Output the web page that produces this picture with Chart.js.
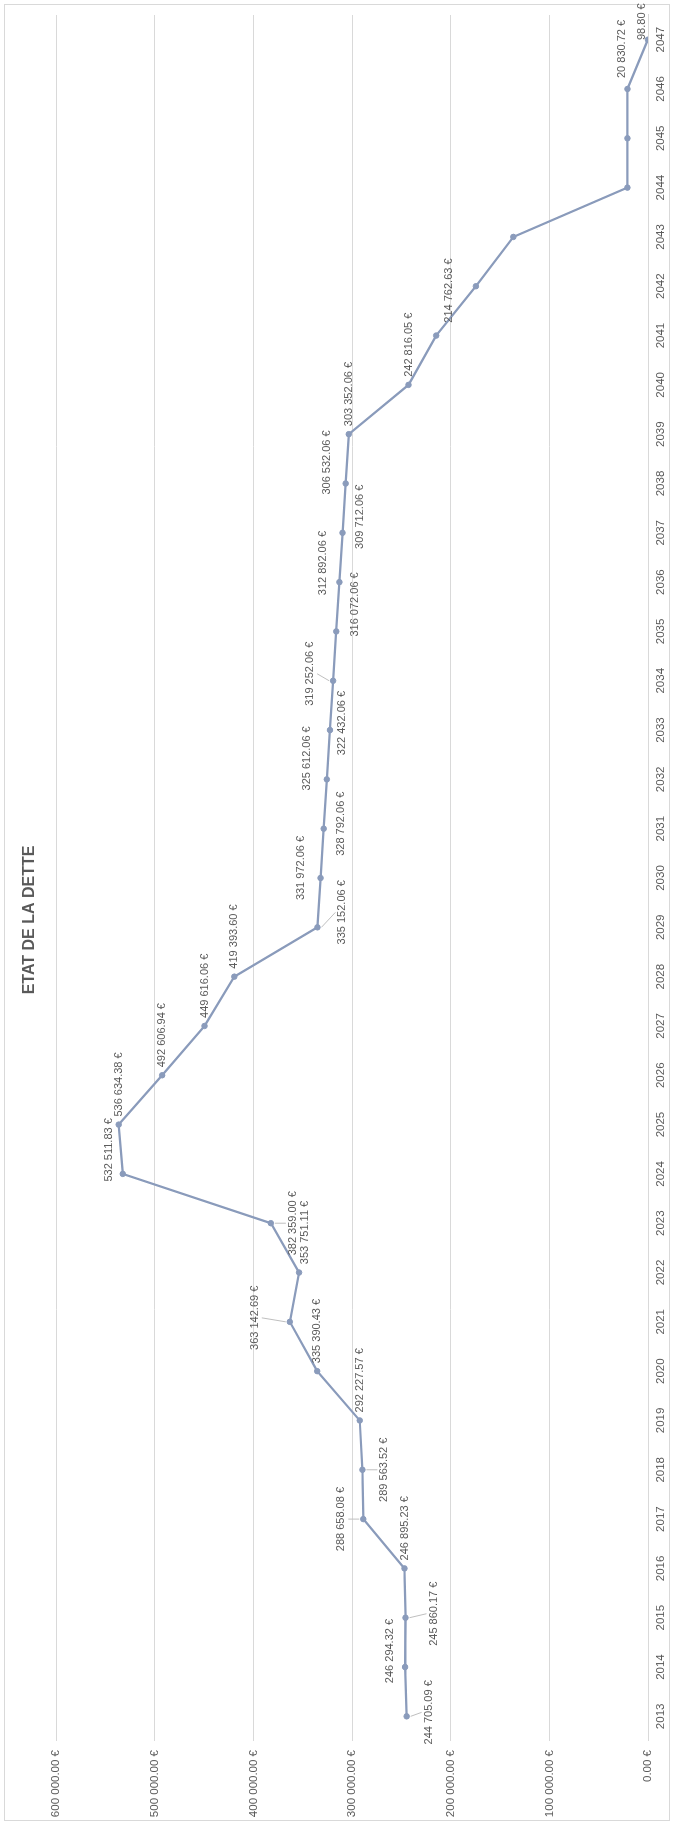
<!DOCTYPE html>
<html>
<head>
<meta charset="utf-8">
<title>Etat de la dette</title>
<script src="https://cdn.jsdelivr.net/npm/chart.js@4.4.1/dist/chart.umd.min.js"></script>
<style>
  html, body { margin: 0; padding: 0; background: #fff; overflow: hidden; }
  /* the chart is laid out landscape and turned a quarter turn to the left */
  #wrap {
    position: absolute; left: 0; top: 0;
    width: 1825px; height: 674px;
    transform-origin: 0 0;
    transform: translateY(1825px) rotate(-90deg);
  }
</style>
</head>
<body>
<div id="wrap"><canvas id="chart" width="1825" height="674"></canvas></div>
<script>
const years = [
  "2013", "2014", "2015", "2016", "2017", "2018", "2019", "2020", "2021",
  "2022", "2023", "2024", "2025", "2026", "2027", "2028", "2029", "2030",
  "2031", "2032", "2033", "2034", "2035", "2036", "2037", "2038", "2039",
  "2040", "2041", "2042", "2043", "2044", "2045", "2046", "2047"
];

const dette = [
  244705.09, 246294.32, 245860.17, 246895.23, 288658.08, 289563.52,
  292227.57, 335390.43, 363142.69, 353751.11, 382359.00, 532511.83,
  536634.38, 492606.94, 449616.06, 419393.60, 335152.06, 331972.06,
  328792.06, 325612.06, 322432.06, 319252.06, 316072.06, 312892.06,
  309712.06, 306532.06, 303352.06, 242816.05, 214762.63, 174500.00,
  136500.00, 20900.00, 20870.00, 20830.72, 98.80
];

// where each value label sits, as seen on the page (label centre minus point):
// null = default spot just after the point, false = no label
const labelOffset = [
  [22, -4], [-15, -16], [28, -4], null, [-22, 0], [22, 0], null, null,
  [-35, -4], [6, -40], [22, 0], [-14, -24], null, null, null, null,
  [25, -15], [-20, -10], [17, -5], [-20, -21], [12, -7], [-23, -7],
  [19, -27], [-16, -19], [17, -16], [-19, -21], null, null, [13, -45],
  false, false, false, false, [-5, -40], [-6, -18]
];

const TEXT = "#595959";
const LINE = "#8a9bbb";
const GRID = "#d9d9d9";
const FONT = '"Liberation Sans", Arial, sans-serif';

function euro(v) {
  const [ent, dec] = v.toFixed(2).split(".");
  return ent.replace(/\B(?=(\d{3})+(?!\d))/g, " ") + "." + dec + " €";
}

// white background + thin frame round the whole chart
const frame = {
  id: "frame",
  beforeDraw(chart) {
    const c = chart.ctx;
    c.save();
    c.fillStyle = "#fff";
    c.fillRect(0, 0, chart.width, chart.height);
    c.strokeStyle = GRID;
    c.lineWidth = 1;
    c.strokeRect(4.5, 4.5, chart.width - 9, chart.height - 9);
    c.restore();
  }
};

// value labels; the canvas is turned, so a page offset (dx, dy)
// becomes (-dy, dx) on the canvas
const valueLabels = {
  id: "valueLabels",
  afterDatasetsDraw(chart) {
    const c = chart.ctx;
    const pts = chart.getDatasetMeta(0).data;
    c.save();
    c.font = "11px " + FONT;
    c.textAlign = "center";
    c.textBaseline = "middle";
    pts.forEach((p, i) => {
      const off = labelOffset[i];
      if (off === false) return;
      const txt = euro(dette[i]);
      const w = c.measureText(txt).width;
      const [dx, dy] = off || [0, -(8 + w / 2)];
      const cx = p.x - dy, cy = p.y + dx;
      // leader line for labels pulled away from their point
      if (off && Math.abs(dx) >= 22) {
        c.strokeStyle = "#bfbfbf";
        c.lineWidth = 1;
        c.beginPath();
        c.moveTo(p.x, p.y + Math.sign(dx) * 4);
        c.lineTo(cx, cy - Math.sign(dx) * 7);
        c.stroke();
      }
      c.fillStyle = TEXT;
      c.fillText(txt, cx, cy);
    });
    c.restore();
  }
};

new Chart(document.getElementById("chart"), {
  type: "line",
  data: {
    labels: years,
    datasets: [{
      data: dette,
      borderColor: LINE,
      backgroundColor: LINE,
      borderWidth: 2.25,
      pointRadius: 2.75,
      pointBorderWidth: 1,
      pointBackgroundColor: LINE,
      tension: 0
    }]
  },
  options: {
    responsive: false,
    animation: false,
    devicePixelRatio: 1,
    layout: { padding: { left: 0, right: 15, top: 0, bottom: 0 } },
    plugins: {
      legend: { display: false },
      tooltip: { enabled: false },
      title: {
        display: true,
        text: "ETAT DE LA DETTE",
        color: TEXT,
        font: { family: FONT, size: 16, weight: "bold" },
        padding: { top: 20, bottom: 17 }
      }
    },
    scales: {
      x: {
        offset: true,
        grid: { display: false, drawTicks: false },
        border: { display: true, color: GRID, width: 1 },
        ticks: {
          autoSkip: false, maxRotation: 0, padding: 6,
          color: TEXT, font: { family: FONT, size: 11.5 }
        },
        afterFit(s) { s.height = 26; }
      },
      y: {
        min: 0, max: 600000,
        grid: { color: GRID, drawTicks: false },
        border: { display: false },
        ticks: {
          stepSize: 100000, padding: 9,
          color: TEXT, font: { family: FONT, size: 11.5 },
          callback: v => euro(v)
        },
        afterFit(s) { s.width = 84; }
      }
    }
  },
  plugins: [frame, valueLabels]
});
</script>
</body>
</html>
